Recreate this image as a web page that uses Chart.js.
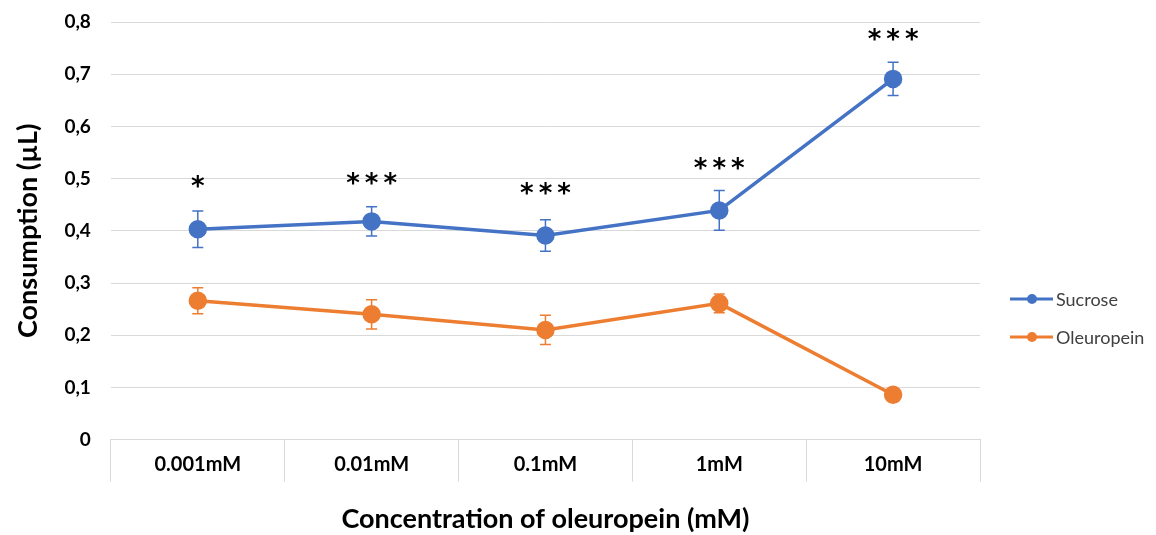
<!DOCTYPE html>
<html>
<head>
<meta charset="utf-8">
<script src="https://cdn.jsdelivr.net/npm/chart.js@4.4.1/dist/chart.umd.min.js"></script>
<style>
  body { margin: 0; background: #fff; }
  #wrap { width: 1156px; height: 535px; }
</style>
</head>
<body>
<div id="wrap"><canvas id="myChart"></canvas></div>
<script>
var categories = ['0.001mM', '0.01mM', '0.1mM', '1mM', '10mM'];
var sucrose = [0.403, 0.418, 0.391, 0.439, 0.691];
var sucroseErr = [0.035, 0.028, 0.030, 0.038, 0.032];
var oleuropein = [0.266, 0.240, 0.210, 0.261, 0.086];
var oleuropeinErr = [0.025, 0.028, 0.028, 0.018, 0.008];
var stars = ['*', '***', '***', '***', '***'];
var starY = [0.493, 0.498, 0.479, 0.527, 0.775];

var errors = [sucroseErr, oleuropeinErr];

// error bars drawn from the scales
var errorBars = {
    id: 'errorBars',
    beforeDatasetsDraw: function (chart) {
        var ctx = chart.ctx;
        var x = chart.scales.x, y = chart.scales.y;
        chart.data.datasets.forEach(function (ds, i) {
            ctx.save();
            ctx.strokeStyle = ds.borderColor;
            ctx.lineWidth = 1.5;
            ds.data.forEach(function (v, j) {
                var px = x.getPixelForValue(j);
                var top = y.getPixelForValue(v + errors[i][j]);
                var bot = y.getPixelForValue(v - errors[i][j]);
                ctx.beginPath();
                ctx.moveTo(px, top); ctx.lineTo(px, bot);
                ctx.moveTo(px - 5.5, top); ctx.lineTo(px + 5.5, top);
                ctx.moveTo(px - 5.5, bot); ctx.lineTo(px + 5.5, bot);
                ctx.stroke();
            });
            ctx.restore();
        });
    }
};

// significance stars + legend on the right
var extras = {
    id: 'extras',
    afterDraw: function (chart) {
        var ctx = chart.ctx;
        var x = chart.scales.x, y = chart.scales.y;
        ctx.save();
        ctx.fillStyle = '#000';
        ctx.font = 'bold 26px "DejaVu Sans"';
        ctx.textAlign = 'center';
        ctx.textBaseline = 'middle';
        ctx.letterSpacing = '5px';
        stars.forEach(function (s, j) {
            ctx.fillText(s, x.getPixelForValue(j) + 2.5, y.getPixelForValue(starY[j]) + 6);
        });
        ctx.letterSpacing = '0px';

        var lx = chart.chartArea.right + 30;
        var ly = 299;
        chart.data.datasets.forEach(function (ds, i) {
            var yy = ly + i * 38;
            ctx.strokeStyle = ds.borderColor;
            ctx.lineWidth = 3;
            ctx.beginPath();
            ctx.moveTo(lx, yy); ctx.lineTo(lx + 43, yy);
            ctx.stroke();
            ctx.fillStyle = ds.borderColor;
            ctx.beginPath();
            ctx.arc(lx + 22, yy, 5, 0, Math.PI * 2);
            ctx.fill();
            ctx.fillStyle = '#404040';
            ctx.font = '18px Lato';
            ctx.textAlign = 'left';
            ctx.fillText(ds.label, lx + 46, yy + 1);
        });
        ctx.restore();
    }
};

var ctx = document.getElementById('myChart').getContext('2d');
var myChart = new Chart(ctx, {
    type: 'line',
    data: {
        labels: categories,
        datasets: [{
            label: 'Sucrose',
            data: sucrose,
            borderColor: '#4472C4',
            backgroundColor: '#4472C4',
            borderWidth: 3.5,
            pointRadius: 7.5,
            pointHoverRadius: 7.5
        }, {
            label: 'Oleuropein',
            data: oleuropein,
            borderColor: '#ED7D31',
            backgroundColor: '#ED7D31',
            borderWidth: 3.5,
            pointRadius: 7.5,
            pointHoverRadius: 7.5
        }]
    },
    options: {
        responsive: true,
        maintainAspectRatio: false,
        animation: false,
        events: [],
        layout: {
            padding: { left: 12, right: 176, top: 22, bottom: 0 }
        },
        plugins: {
            legend: { display: false },
            tooltip: { enabled: false }
        },
        scales: {
            x: {
                offset: true,
                grid: {
                    offset: true,
                    drawOnChartArea: false,
                    color: '#d9d9d9',
                    tickLength: 42
                },
                border: { color: '#d9d9d9' },
                ticks: {
                    padding: -29,
                    color: '#000',
                    font: { family: 'Lato', weight: 'bold', size: 20 }
                },
                title: {
                    display: true,
                    text: 'Concentration of oleuropein (mM)',
                    color: '#000',
                    font: { family: 'Lato', weight: 'bold', size: 27 },
                    padding: { top: 55, bottom: 0 }
                }
            },
            y: {
                min: 0,
                max: 0.8,
                afterFit: function (s) { s.paddingTop = 0; },
                ticks: {
                    stepSize: 0.1,
                    padding: 20,
                    color: '#000',
                    font: { family: 'Lato', weight: 'bold', size: 19 },
                    callback: function (v) {
                        return v === 0 ? '0' : v.toFixed(1).replace('.', ',');
                    }
                },
                grid: { color: '#d9d9d9', drawTicks: false },
                border: { display: false },
                title: {
                    display: true,
                    text: 'Consumption (µL)',
                    color: '#000',
                    font: { family: 'Lato', weight: 'bold', size: 27 },
                    padding: { top: 0, bottom: 0 }
                }
            }
        }
    },
    plugins: [errorBars, extras]
});
</script>
</body>
</html>
